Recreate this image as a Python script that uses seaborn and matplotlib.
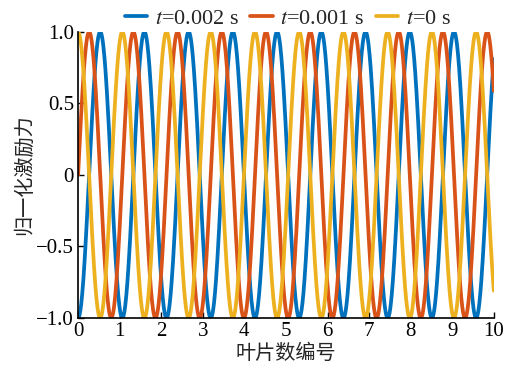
import numpy as np
import pandas as pd
import matplotlib
matplotlib.use('Agg')
import matplotlib.pyplot as plt
import seaborn as sns

# values
t_values = [0.002, 0.001, 0.0]          # time of each curve, s
labels = ['$t$=0.002 s', '$t$=0.001 s', '$t$=0 s']
colors = ['#0072BD', '#D95319', '#EDB120']
cycles_over_10 = 9.4                    # wave periods across blades 0..10
freq_hz = 250.0                         # phase shift of pi/2 per 0.001 s
x_ticks = list(range(0, 11))
y_ticks = [-1.0, -0.5, 0, 0.5, 1.0]
y_ticklabels = ['\u22121.0', '\u22120.5', '0', '0.5', '1.0']

x = np.linspace(0, 10, 1200)
frames = []
for t, lab in zip(t_values, labels):
    y = np.cos(2 * np.pi * cycles_over_10 / 10 * x - 2 * np.pi * freq_hz * t)
    frames.append(pd.DataFrame({'blade': x, 'force': y, 'curve': lab}))
df = pd.concat(frames, ignore_index=True)

sns.set_style('ticks')
plt.rcParams['font.family'] = ['Liberation Serif', 'Noto Sans CJK SC']
plt.rcParams['mathtext.fontset'] = 'stix'
plt.rcParams['xtick.direction'] = 'in'
plt.rcParams['ytick.direction'] = 'in'

fig = plt.figure(figsize=(5.07, 3.75), dpi=100)
ax = fig.add_axes([0.154, 0.152, 0.82, 0.763])
sns.lineplot(data=df, x='blade', y='force', hue='curve', palette=colors,
             hue_order=labels, linewidth=2.7, ax=ax, sort=False)

ax.set_xlim(0, 10)
ax.set_ylim(-1, 1)
ax.set_xticks(x_ticks)
ax.set_yticks(y_ticks)
ax.set_yticklabels(y_ticklabels)
ax.tick_params(labelsize=15, length=4, width=1, colors='black', pad=3)
ax.set_xlabel('叶片数编号', fontsize=14.5, family='Noto Sans CJK SC', labelpad=1)
ax.set_ylabel('归一化激励力', fontsize=14.5, family='Noto Sans CJK SC', labelpad=1)
for s in ['top', 'right']:
    ax.spines[s].set_visible(False)
for s in ['left', 'bottom']:
    ax.spines[s].set_linewidth(1.2)
    ax.spines[s].set_color('black')

ax.legend(loc='lower center', bbox_to_anchor=(0.505, 0.98), ncol=3, frameon=False,
          fontsize=16, handlelength=1.0, handletextpad=0.35, columnspacing=0.5,
          borderaxespad=0)

fig.savefig('out.png', dpi=100)
